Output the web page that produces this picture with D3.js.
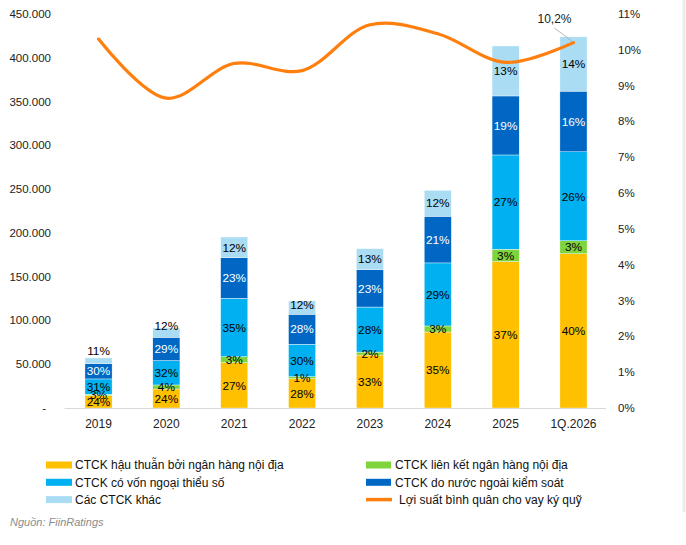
<!DOCTYPE html>
<html>
<head>
<meta charset="utf-8">
<script src="https://cdn.jsdelivr.net/npm/d3@7"></script>
<style>
  body { margin: 0; background: #fff; }
  svg { display: block; font-family: "Liberation Sans", Arial, sans-serif; }
</style>
</head>
<body>
<svg id="viz"></svg>
<script>
// data (values in bn VND, yield in %)
const years = ["2019", "2020", "2021", "2022", "2023", "2024", "2025", "1Q.2026"];
const bankBacked        = [14200, 21700, 51700, 33500, 60500, 86800, 167100, 176200];
const bankAffiliated    = [1500, 4600, 6900, 2300, 3400, 6900, 14200, 14800];
const foreignMinority   = [17500, 27800, 66700, 37000, 51400, 72000, 107700, 101600];
const foreignControlled = [17600, 26700, 46400, 34300, 42700, 53300, 67400, 69300];
const otherFirms        = [6400, 10600, 23600, 15200, 24000, 29700, 57100, 62000];

const bankBackedPct        = ["24%", "24%", "27%", "28%", "33%", "35%", "37%", "40%"];
const bankAffiliatedPct    = ["3%", "4%", "3%", "1%", "2%", "3%", "3%", "3%"];
const foreignMinorityPct   = ["31%", "32%", "35%", "30%", "28%", "29%", "27%", "26%"];
const foreignControlledPct = ["30%", "29%", "23%", "28%", "23%", "21%", "19%", "16%"];
const otherFirmsPct        = ["11%", "12%", "12%", "12%", "13%", "12%", "13%", "14%"];

const marginYield = [10.3, 8.65, 9.62, 9.42, 10.7, 10.45, 9.65, 10.2];
const lastYieldLabel = "10,2%";

const leftTicks  = [0, 50000, 100000, 150000, 200000, 250000, 300000, 350000, 400000, 450000];
const rightTicks = [0, 1, 2, 3, 4, 5, 6, 7, 8, 9, 10, 11];

const seriesNames = [
  "CTCK hậu thuẫn bởi ngân hàng nội địa",
  "CTCK liên kết ngân hàng nội địa",
  "CTCK có vốn ngoại thiểu số",
  "CTCK do nước ngoài kiểm soát",
  "Các CTCK khác"
];
const lineName = "Lợi suất bình quân cho vay ký quỹ";
const sourceText = "Nguồn: FiinRatings";

// build table for the stack
const keys = ["bankBacked", "bankAffiliated", "foreignMinority", "foreignControlled", "otherFirms"];
const values = [bankBacked, bankAffiliated, foreignMinority, foreignControlled, otherFirms];
const pcts = [bankBackedPct, bankAffiliatedPct, foreignMinorityPct, foreignControlledPct, otherFirmsPct];
const table = years.map((y, i) => {
  const row = { year: y };
  keys.forEach((k, j) => row[k] = values[j][i]);
  return row;
});

const colors = ["#FFC000", "#7ED43C", "#00B0F0", "#0068C4", "#AADCF4"];
const labelColors = ["#000", "#000", "#000", "#fff", "#000"];
const lineColor = "#FF7F0E";

const W = 686, H = 545;
const svg = d3.select("#viz").attr("width", W).attr("height", H);

const x = d3.scaleBand().domain(years).range([64.6, 607.4]).paddingInner(0.6).paddingOuter(0.3);
const yL = d3.scaleLinear().domain([0, 450000]).range([408, 14]);
const yR = d3.scaleLinear().domain([0, 11]).range([408, 14]);

// faint page edge on the right
svg.append("line")
  .attr("x1", 684).attr("x2", 684).attr("y1", 0).attr("y2", 512)
  .attr("stroke", "#ececec").attr("stroke-width", 3);

// left axis labels
const fmt = v => v === 0 ? "-" : d3.format(",")(v).replace(/,/g, ".");
svg.append("g").selectAll("text")
  .data(leftTicks).enter().append("text")
  .attr("x", d => d === 0 ? 46 : 51)
  .attr("y", d => yL(d))
  .attr("dy", "0.35em")
  .attr("text-anchor", "end")
  .attr("font-size", 11.5)
  .attr("fill", "#222")
  .text(fmt);

// right axis labels
svg.append("g").selectAll("text")
  .data(rightTicks).enter().append("text")
  .attr("x", 618)
  .attr("y", d => yR(d))
  .attr("dy", "0.35em")
  .attr("font-size", 11.5)
  .attr("fill", "#222")
  .text(d => d + "%");

// stacked bars
const stacked = d3.stack().keys(keys)(table);
const bw = x.bandwidth();

const layers = svg.append("g").selectAll("g")
  .data(stacked).enter().append("g")
  .attr("fill", (d, i) => colors[i]);

layers.selectAll("rect")
  .data(d => d).enter().append("rect")
  .attr("x", d => x(d.data.year))
  .attr("y", d => yL(d[1]))
  .attr("width", bw)
  .attr("height", d => yL(d[0]) - yL(d[1]))
  .attr("stroke", "#fff")
  .attr("stroke-width", 0.4);

// x axis line
svg.append("line")
  .attr("x1", 64.6).attr("x2", 606)
  .attr("y1", 408.5).attr("y2", 408.5)
  .attr("stroke", "#d9d9d9").attr("stroke-width", 1.2);

// data labels
stacked.forEach((layer, j) => {
  svg.append("g").selectAll("text")
    .data(layer).enter().append("text")
    .attr("x", d => x(d.data.year) + bw / 2)
    .attr("y", d => {
      const top = yL(d[1]), h = yL(d[0]) - top;
      let cy = top + h / 2;
      // small top segments: Excel pushes the label up over the bar
      if (j === keys.length - 1 && h < 16) cy -= (16 - h);
      return cy;
    })
    .attr("dy", "0.36em")
    .attr("text-anchor", "middle")
    .attr("font-size", 11.8)
    .attr("fill", labelColors[j])
    .text((d, i) => pcts[j][i]);
});

// x labels
svg.append("g").selectAll("text")
  .data(years).enter().append("text")
  .attr("x", d => x(d) + bw / 2)
  .attr("y", 424)
  .attr("dy", "0.35em")
  .attr("text-anchor", "middle")
  .attr("font-size", 12)
  .attr("fill", "#222")
  .text(d => d);

// yield line
const line = d3.line()
  .x((d, i) => x(years[i]) + bw / 2)
  .y(d => yR(d))
  .curve(d3.curveCatmullRom.alpha(0.5));

svg.append("path")
  .datum(marginYield)
  .attr("d", line)
  .attr("fill", "none")
  .attr("stroke", lineColor)
  .attr("stroke-width", 3.2)
  .attr("stroke-linecap", "round");

// last point label with leader line
const lastX = x(years[years.length - 1]) + bw / 2;
const lastY = yR(marginYield[marginYield.length - 1]);
svg.append("line")
  .attr("x1", lastX - 19).attr("y1", 28)
  .attr("x2", lastX - 1).attr("y2", lastY - 1)
  .attr("stroke", "#a6a6a6").attr("stroke-width", 0.8);
svg.append("text")
  .attr("x", lastX - 19).attr("y", 19)
  .attr("dy", "0.35em")
  .attr("text-anchor", "middle")
  .attr("font-size", 12)
  .attr("fill", "#222")
  .text(lastYieldLabel);

// legend
const legendItems = [
  { name: seriesNames[0], color: colors[0], col: 0, row: 0 },
  { name: seriesNames[1], color: colors[1], col: 1, row: 0 },
  { name: seriesNames[2], color: colors[2], col: 0, row: 1 },
  { name: seriesNames[3], color: colors[3], col: 1, row: 1 },
  { name: seriesNames[4], color: colors[4], col: 0, row: 2 },
  { name: lineName, color: lineColor, col: 1, row: 2, line: true }
];
const legend = svg.append("g").selectAll("g")
  .data(legendItems).enter().append("g")
  .attr("transform", d => "translate(" + (d.col ? 366 : 46) + "," + (465 + d.row * 17.3) + ")");

legend.filter(d => !d.line).append("rect")
  .attr("x", 0).attr("y", -3.5)
  .attr("width", d => d.col ? 25 : 26).attr("height", 7)
  .attr("fill", d => d.color);
legend.filter(d => d.line).append("line")
  .attr("x1", 0).attr("x2", 26).attr("y1", 0).attr("y2", 0)
  .attr("stroke", d => d.color).attr("stroke-width", 3.5);
legend.append("text")
  .attr("x", d => d.line ? 33 : (d.col ? 29 : 29))
  .attr("y", 0)
  .attr("dy", "0.35em")
  .attr("font-size", 12)
  .attr("fill", "#111")
  .text(d => d.name);

// source
svg.append("text")
  .attr("x", 10).attr("y", 522)
  .attr("dy", "0.35em")
  .attr("font-size", 11)
  .attr("font-style", "italic")
  .attr("fill", "#8c8c8c")
  .text(sourceText);
</script>
</body>
</html>
